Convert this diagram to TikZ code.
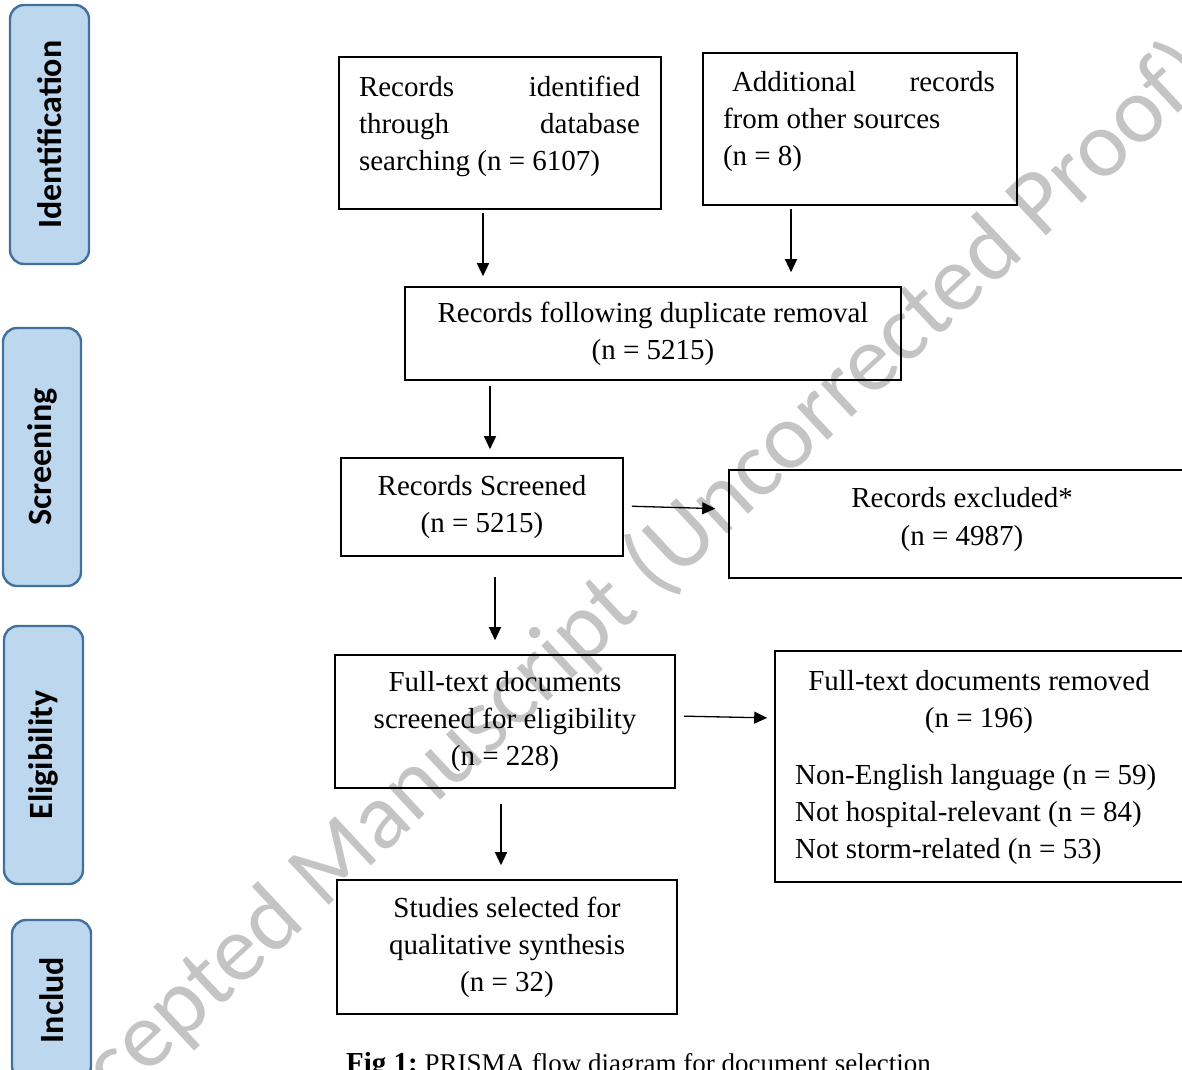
\documentclass[tikz,border=0pt]{standalone}
\usepackage{fontspec}
\setmainfont{Liberation Serif}
\newfontfamily\calfont{Carlito}
\usetikzlibrary{arrows.meta,calc}
\definecolor{sidefill}{RGB}{189,215,238}
\definecolor{sideline}{RGB}{65,113,156}
\definecolor{wmgray}{RGB}{196,196,196}
\tikzset{
 boxnode/.style={draw=black, line width=1.6pt, inner sep=0pt, align=center, font=\fontsize{29}{37}\selectfont},
 txt/.style={inner sep=0pt, font=\fontsize{29}{37}\selectfont},
 side/.style={draw=sideline, fill=sidefill, line width=2.4pt, rounded corners=14pt, rotate=90, inner sep=0pt, font=\calfont\bfseries\fontsize{34}{40}\selectfont},
 arr/.style={line width=1.3pt, -{Triangle[length=13pt,width=12pt]}},
 wm/.style={text=wmgray, inner sep=0pt, font=\calfont\fontsize{94}{100}\selectfont}
}
\begin{document}
\begin{tikzpicture}[x=1pt,y=-1pt]
\useasboundingbox (0,0) rectangle (1182,1069);
\clip (0,0) rectangle (1182,1069);
% watermark
\node[wm, rotate=43, anchor=base west] (wm) at (47,1168) {Accepted Manuscript (Uncorrected Proof)};
% side labels
\node[side, minimum width=259, minimum height=79] (s1) at (49.5,134.5) {Identification};
\node[side, minimum width=258, minimum height=78] (s2) at (42,457) {Screening};
\node[side, minimum width=258, minimum height=79] (s3) at (43.5,755) {Eligibility};
\node[side, minimum width=160, minimum height=79] (s4) at (51.5,1000) {Includ};
% boxes
\node[boxnode, minimum width=322, minimum height=152] (b1) at (500,133) {};
\node[txt, text width=281pt, align=flush left] (t1) at (499.5,126)
  {\makebox[\linewidth]{Records\hfill identified}\\\makebox[\linewidth]{through\hfill database}\\searching (n = 6107)};
\node[boxnode, minimum width=314, minimum height=152] (b2) at (860,129) {};
\node[txt, text width=272pt, align=flush left] (t2) at (859,122)
  {\makebox[\linewidth]{\hspace*{9pt}Additional\hfill records}\\from other sources\\(n = 8)};
\node[boxnode, minimum width=496, minimum height=93] (b3) at (653,333.5) {Records following duplicate removal\\(n = 5215)};
\node[boxnode, minimum width=282, minimum height=98] (b4) at (482,507) {Records Screened\\(n = 5215)};
\node[boxnode, minimum width=467, minimum height=108] (b5) at (962.5,524) {};
\node[txt, align=center, font=\fontsize{29}{38}\selectfont] (t5) at (962,520) {Records excluded*\\(n = 4987)};
\node[boxnode, minimum width=340, minimum height=133] (b6) at (505,721.5) {Full-text documents\\screened for eligibility\\(n = 228)};
\node[boxnode, minimum width=421, minimum height=231] (b7) at (985.5,766.5) {};
\node[txt, align=center] (t7a) at (979,702.5) {Full-text documents removed\\(n = 196)};
\node[txt, align=left, anchor=west] (t7b) at (795,815) {Non-English language (n = 59)\\Not hospital-relevant (n = 84)\\Not storm-related (n = 53)};
\node[boxnode, minimum width=340, minimum height=134] (b8) at (507,947) {Studies selected for\\qualitative synthesis\\(n = 32)};
% arrows
\draw[arr, shorten <=3pt, shorten >=10pt] ([xshift=-17pt]b1.south) -- ([xshift=-17pt]b1.south |- b3.north);
\draw[arr, shorten <=3pt, shorten >=14pt] ([xshift=-69pt]b2.south) -- ([xshift=-69pt]b2.south |- b3.north);
\draw[arr, shorten <=5pt, shorten >=8pt] ([xshift=-163pt]b3.south) -- ([xshift=-163pt]b3.south |- b4.north);
\draw[arr, shorten <=8pt, shorten >=13pt] ([yshift=1pt]b4.east) -- ([yshift=-2pt]b4.east -| b5.west);
\draw[arr, shorten <=20pt, shorten >=14pt] ([xshift=13pt]b4.south) -- ([xshift=13pt]b4.south |- b6.north);
\draw[arr, shorten <=8pt, shorten >=7pt] ([yshift=5.5pt]b6.east) -- ([yshift=3.5pt]b6.east -| b7.west);
\draw[arr, shorten <=15pt, shorten >=14pt] ([xshift=-4pt]b6.south) -- ([xshift=-4pt]b6.south |- b8.north);
% caption
\node[inner sep=0pt, anchor=base west] (cap) at (346,1072) {\fontsize{29}{34}\selectfont\bfseries Fig 1:\fontsize{27}{32}\selectfont\mdseries\ PRISMA flow diagram for document selection};
\end{tikzpicture}
\end{document}
